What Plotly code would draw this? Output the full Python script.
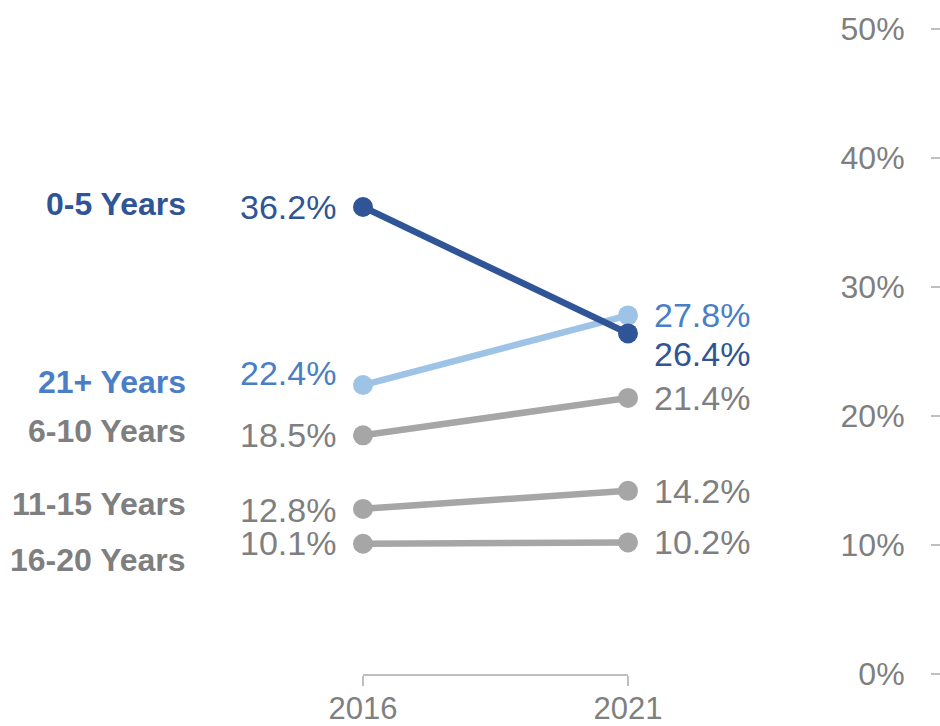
import plotly.graph_objects as go

years = ["2016", "2021"]
series_names = ["16-20 Years", "11-15 Years", "6-10 Years", "21+ Years", "0-5 Years"]
values_2016 = [10.1, 12.8, 18.5, 22.4, 36.2]
values_2021 = [10.2, 14.2, 21.4, 27.8, 26.4]

line_colors = ["#A6A6A6", "#A6A6A6", "#A6A6A6", "#9DC3E6", "#2F5597"]
text_colors = ["#7F7F7F", "#7F7F7F", "#7F7F7F", "#4A7EC6", "#2F5597"]

# vertical nudges (px) so labels don't collide
name_shift = [-16, 5, 4, 3, 3]
left_shift = [1, -1, 0, 12, 0]
right_shift = [0, 0, 0, 0, -21]

FONT = "Liberation Sans, Arial, sans-serif"
xpos = [0, 1]

fig = go.Figure()
for i, name in enumerate(series_names):
    fig.add_trace(go.Scatter(
        x=xpos, y=[values_2016[i], values_2021[i]],
        mode="lines+markers", name=name,
        line=dict(color=line_colors[i], width=6.5),
        marker=dict(color=line_colors[i], size=20),
        cliponaxis=False, showlegend=False, hoverinfo="skip",
    ))

annotations = []
for i, name in enumerate(series_names):
    annotations.append(dict(
        x=188 / 940, xref="paper", y=values_2016[i], yref="y",
        text=f"<b>{name}</b>", showarrow=False, xanchor="right",
        yanchor="middle", yshift=name_shift[i],
        font=dict(family=FONT, size=32, color=text_colors[i]),
    ))
    annotations.append(dict(
        x=xpos[0], xref="x", y=values_2016[i], yref="y",
        text=f"{values_2016[i]:.1f}%", showarrow=False, xanchor="right",
        yanchor="middle", xshift=-25, yshift=left_shift[i],
        font=dict(family=FONT, size=34, color=text_colors[i]),
    ))
    annotations.append(dict(
        x=xpos[1], xref="x", y=values_2021[i], yref="y",
        text=f"{values_2021[i]:.1f}%", showarrow=False, xanchor="left",
        yanchor="middle", xshift=24, yshift=right_shift[i],
        font=dict(family=FONT, size=34, color=text_colors[i]),
    ))

fig.update_layout(
    width=940, height=726,
    margin=dict(l=0, r=0, t=29, b=52, autoexpand=False),
    paper_bgcolor="white", plot_bgcolor="white",
    font=dict(family=FONT),
    annotations=annotations,
    xaxis=dict(
        domain=[363 / 940, 628 / 940], range=[0, 1],
        tickvals=xpos, ticktext=years,
        showgrid=False, zeroline=False,
        showline=True, linecolor="#BFBFBF", linewidth=1.5,
        ticks="outside", ticklen=10, tickcolor="#BFBFBF", tickwidth=1.5,
        ticklabelstandoff=-4,
        tickfont=dict(family=FONT, size=31, color="#7F7F7F"),
        anchor="y",
    ),
    yaxis=dict(
        range=[0, 50], tickvals=[0, 10, 20, 30, 40, 50],
        ticktext=["0%", "10%", "20%", "30%", "40%", "50%"],
        anchor="free", position=1.0, side="left",
        showgrid=False, zeroline=False, showline=False,
        ticks="outside", ticklen=9, tickcolor="#BFBFBF", tickwidth=1.5,
        ticklabelstandoff=20,
        tickfont=dict(family=FONT, size=32, color="#7F7F7F"),
    ),
)

fig.write_html("out.html")
